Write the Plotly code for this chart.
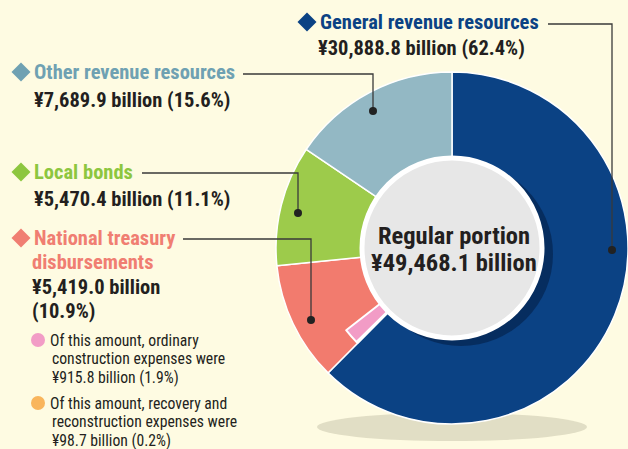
import plotly.graph_objects as go

W, H = 628, 449

# ---- data ----
categories = ["General revenue resources", "National treasury disbursements",
              "Local bonds", "Other revenue resources"]
amounts = [30888.8, 5419.0, 5470.4, 7689.9]          # ¥ billion
shares = [62.4, 10.9, 11.1, 15.6]                      # %
total_amount = 49468.1
sub_labels = ["ordinary construction expenses", "recovery and reconstruction expenses"]
sub_amounts = [915.8, 98.7]
sub_shares = [1.9, 0.2]

colors = ["#0B4284", "#F27B6E", "#9DCB4B", "#93B8C4"]
label_colors = ["#0B4284", "#F07E72", "#8DC63F", "#6FA1B2"]
sub_colors = ["#F29CC6", "#F9B55C"]
BG = "#FEFBE2"
FONT = "Roboto Condensed, Open Sans Condensed, Liberation Sans, sans-serif"

def px(x):
    return min(1.0, max(0.0, x / W))

def py(y):
    return min(1.0, max(0.0, 1 - y / H))

CX, CY, R = 452, 248, 176
R2, RH = 134, 89

fig = go.Figure()

# main donut (clockwise from 12 o'clock)
fig.add_trace(go.Pie(
    values=amounts, labels=categories, sort=False, direction="clockwise",
    hole=RH / R, textinfo="none", hoverinfo="label+value+percent",
    marker=dict(colors=colors, line=dict(color="white", width=1.5)),
    domain=dict(x=[px(CX - R), px(CX + R)], y=[py(CY + R), py(CY - R)]),
    showlegend=False,
))

# inner overlay ring for sub-items of national treasury disbursements
rest_nat = amounts[1] - sum(sub_amounts)
ov_vals = [amounts[0], sub_amounts[1], sub_amounts[0], rest_nat, amounts[2], amounts[3]]
ov_cols = ["rgba(0,0,0,0)", sub_colors[1], sub_colors[0], "rgba(0,0,0,0)",
           "rgba(0,0,0,0)", "rgba(0,0,0,0)"]
ov_lw = [0, 1.5, 2, 0, 0, 0]
fig.add_trace(go.Pie(
    values=ov_vals, sort=False, direction="clockwise",
    hole=RH / R2, textinfo="none", hoverinfo="skip",
    marker=dict(colors=ov_cols, line=dict(color="white", width=ov_lw)),
    domain=dict(x=[px(CX - R2), px(CX + R2)], y=[py(CY + R2), py(CY - R2)]),
    showlegend=False,
))

shapes = []
# ground shadow
shapes.append(dict(type="circle", xref="paper", yref="paper", layer="below",
                   x0=px(CX - 135), x1=px(CX + 135), y0=py(CY + 193), y1=py(CY + 165),
                   fillcolor="rgba(160,155,130,0.3)", line=dict(width=0)))
# center disc shadow + disc
shapes.append(dict(type="circle", xref="paper", yref="paper", layer="above",
                   x0=px(CX - 92 + 9), x1=px(CX + 92 + 9), y0=py(CY + 92 + 6), y1=py(CY - 92 + 6),
                   fillcolor="rgba(0,20,50,0.45)", line=dict(width=0)))
shapes.append(dict(type="circle", xref="paper", yref="paper", layer="above",
                   x0=px(CX - 90), x1=px(CX + 90), y0=py(CY + 90), y1=py(CY - 90),
                   fillcolor="#E7E7E7", line=dict(color="white", width=5)))

# leader lines: (label end x, label y, elbow x, dot y)
leaders = [(548, 24, 612, 250), (243, 74, 373, 111), (142, 173, 298, 213), (183, 239, 311, 320)]
for x0, y0, x1, y1 in leaders:
    shapes.append(dict(type="path", xref="paper", yref="paper", layer="above",
                       path=f"M {px(x0)},{py(y0)} L {px(x1)},{py(y0)} L {px(x1)},{py(y1)}",
                       line=dict(color="#3A3A3A", width=1.3)))
    shapes.append(dict(type="circle", xref="paper", yref="paper", layer="above",
                       x0=px(x1 - 4), x1=px(x1 + 4), y0=py(y1 + 4), y1=py(y1 - 4),
                       fillcolor="#222222", line=dict(width=0)))

# diamonds (category index, position)
diamond_pos = [(0, 307, 22), (3, 21, 72), (2, 21, 172), (1, 21, 238)]
for ci, dx, dy in diamond_pos:
    s = 9.5
    shapes.append(dict(type="path", xref="paper", yref="paper", layer="above",
                       path=(f"M {px(dx - s)},{py(dy)} L {px(dx)},{py(dy - s)} "
                             f"L {px(dx + s)},{py(dy)} L {px(dx)},{py(dy + s)} Z"),
                       fillcolor=label_colors[ci], line=dict(width=0)))

# bullet dots for sub-items
for (bx, by), c in zip([(38, 340), (38, 403)], sub_colors):
    shapes.append(dict(type="circle", xref="paper", yref="paper", layer="above",
                       x0=px(bx - 7), x1=px(bx + 7), y0=py(by + 7), y1=py(by - 7),
                       fillcolor=c, line=dict(width=0)))

ann = []

def txt(x, y, s, color="#231F20", size=20.5, bold=True, xanchor="left"):
    ann.append(dict(x=px(x), y=py(y), xref="paper", yref="paper", text=(f"<b>{s}</b>" if bold else s),
                    showarrow=False, xanchor=xanchor, yanchor="middle",
                    font=dict(family=FONT, size=size, color=color)))

def val(i):
    return f"¥{amounts[i]:,.1f} billion"

# General revenue resources
txt(318, 22, categories[0], label_colors[0])
txt(316, 48, f"{val(0)} ({shares[0]}%)")
# Other revenue resources
txt(32, 72, categories[3], label_colors[3])
txt(32, 100, f"{val(3)} ({shares[3]}%)")
# Local bonds
txt(32, 172, categories[2], label_colors[2])
txt(32, 199, f"{val(2)} ({shares[2]}%)")
# National treasury disbursements (wrapped)
txt(32, 238, "National treasury", label_colors[1])
txt(30, 262, "disbursements", label_colors[1])
txt(30, 287, val(1))
txt(30, 311, f"({shares[1]}%)")
# sub notes
sub_lines = [
    ["Of this amount, ordinary", "construction expenses were",
     f"¥{sub_amounts[0]:,.1f} billion ({sub_shares[0]}%)"],
    ["Of this amount, recovery and", "reconstruction expenses were",
     f"¥{sub_amounts[1]:,.1f} billion ({sub_shares[1]}%)"],
]
for ys, lines in zip([(340, 358, 377), (403, 421, 440)], sub_lines):
    for k, (yy, line) in enumerate(zip(ys, lines)):
        txt(48 if k == 0 else 50, yy, line, "#231F20", size=15.7, bold=False)

# centre text
txt(CX + 2, 235, "Regular portion", "#231F20", size=24.5, xanchor="center")
txt(CX + 2, 262, f"¥{total_amount:,.1f} billion", "#231F20", size=24.5, xanchor="center")

fig.update_layout(
    width=W, height=H, margin=dict(l=0, r=0, t=0, b=0),
    paper_bgcolor=BG, plot_bgcolor=BG,
    shapes=shapes, annotations=ann, showlegend=False,
)

fig.write_html("out.html", config=dict(displayModeBar=False),
               post_script="document.body.style.margin='0';document.body.style.background='" + BG + "';")
